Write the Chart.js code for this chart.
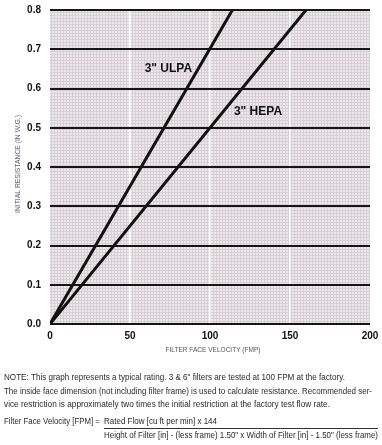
<!DOCTYPE html>
<html>
<head>
<meta charset="utf-8">
<script src="https://cdn.jsdelivr.net/npm/chart.js@4.4.0/dist/chart.umd.min.js"></script>
<style>
html,body{margin:0;padding:0;background:#fff;}
#wrap{width:382px;height:445px;}
</style>
</head>
<body>
<div id="wrap"><canvas id="c" width="382" height="445"></canvas></div>
<script>
// ---- data ----
const xTicks = [0, 50, 100, 150, 200];
const yTicks = [0.0, 0.1, 0.2, 0.3, 0.4, 0.5, 0.6, 0.7, 0.8];
const seriesNames = ['3" ULPA', '3" HEPA'];
const ulpaVelocity = [0, 114];
const ulpaResistance = [0, 0.8];
const hepaVelocity = [0, 160];
const hepaResistance = [0, 0.8];
const labelVelocity = [74, 130];
const labelResistance = [0.65, 0.54];
const xTitle = 'FILTER FACE VELOCITY (FMP)';
const yTitle = 'INITIAL RESISTANCE (IN W.G.)';
const noteLines = [
  'NOTE: This graph represents a typical rating. 3 & 6" filters are tested at 100 FPM at the factory.',
  'The inside face dimension (not including filter frame) is used to calculate resistance. Recommended ser-',
  'vice restriction is approximately two times the initial restriction at the factory test flow rate.'
];
const formulaLeft = 'Filter Face Velocity [FPM] = ';
const formulaTop = 'Rated Flow [cu ft per min] x 144';
const formulaBottom = 'Height of Filter [in] - (less frame) 1.50" x Width of Filter [in] - 1.50" (less frame)';

const toPoints = (xs, ys) => xs.map((x, i) => ({x: x, y: ys[i]}));

// background pattern
function makePattern(ctx) {
  const p = document.createElement('canvas');
  p.width = 3; p.height = 3;
  const g = p.getContext('2d');
  g.fillStyle = 'rgb(238,232,235)';
  g.fillRect(0, 0, 3, 3);
  g.fillStyle = 'rgb(214,208,212)';
  g.fillRect(0, 0, 3, 1);
  g.fillRect(0, 0, 1, 3);
  return ctx.createPattern(p, 'repeat');
}

const bgPlugin = {
  id: 'bg',
  beforeDraw(chart) {
    const {ctx, chartArea: a} = chart;
    ctx.save();
    ctx.fillStyle = makePattern(ctx);
    ctx.fillRect(a.left, a.top, a.right - a.left, a.bottom - a.top);
    ctx.restore();
  }
};

const textPlugin = {
  id: 'texts',
  afterDatasetsDraw(chart) {
    const {ctx, scales} = chart;
    ctx.save();
    ctx.fillStyle = '#111';
    ctx.font = 'bold 12px "Liberation Sans", Arial, sans-serif';
    ctx.textAlign = 'center';
    ctx.textBaseline = 'middle';
    seriesNames.forEach((n, i) => {
      ctx.fillText(n, scales.x.getPixelForValue(labelVelocity[i]), scales.y.getPixelForValue(labelResistance[i]));
    });
    ctx.restore();
  },
  afterDraw(chart) {
    const {ctx} = chart;
    ctx.save();
    // axis titles
    ctx.fillStyle = '#555';
    ctx.font = '8px "Liberation Sans", Arial, sans-serif';
    ctx.textAlign = 'center';
    ctx.textBaseline = 'middle';
    ctx.fillText(xTitle, 213, 350, 95);
    ctx.save();
    ctx.translate(18, 164);
    ctx.rotate(-Math.PI / 2);
    ctx.fillStyle = '#5a5f75';
    ctx.fillText(yTitle, 0, 0, 98);
    ctx.restore();
    // notes
    ctx.fillStyle = '#2a2a2a';
    ctx.textAlign = 'left';
    ctx.font = '9px "Liberation Sans", Arial, sans-serif';
    const widths = [341, 368, 326];
    const ys = [378, 392, 405];
    noteLines.forEach((t, i) => ctx.fillText(t, 4, ys[i], widths[i]));
    ctx.fillText(formulaLeft, 4, 422, 98);
    ctx.fillText(formulaTop, 104, 422, 113);
    ctx.fillText(formulaBottom, 104, 436, 274);
    ctx.strokeStyle = '#333';
    ctx.lineWidth = 1;
    ctx.beginPath();
    ctx.moveTo(104, 428.5);
    ctx.lineTo(378, 428.5);
    ctx.stroke();
    ctx.restore();
  }
};

const tickFont = {family: '"Liberation Sans", Arial, sans-serif', size: 10, weight: 'bold'};

new Chart(document.getElementById('c'), {
  type: 'scatter',
  data: {
    datasets: [
      {label: seriesNames[0], data: toPoints(ulpaVelocity, ulpaResistance), showLine: true,
       borderColor: '#111', borderWidth: 3, pointRadius: 0, borderCapStyle: 'round'},
      {label: seriesNames[1], data: toPoints(hepaVelocity, hepaResistance), showLine: true,
       borderColor: '#111', borderWidth: 3, pointRadius: 0, borderCapStyle: 'round'}
    ]
  },
  options: {
    responsive: false,
    animation: false,
    layout: {padding: {top: 10, right: 12, left: 0, bottom: 0}},
    plugins: {legend: {display: false}, tooltip: {enabled: false}},
    scales: {
      x: {
        type: 'linear', min: xTicks[0], max: xTicks[xTicks.length - 1],
        afterBuildTicks: s => { s.ticks = xTicks.map(v => ({value: v})); },
        afterFit: s => { s.height = 121; s.paddingLeft = 0; s.paddingRight = 0; },
        border: {display: false},
        grid: {drawTicks: false, lineWidth: 1.5,
               color: c => (c.tick && c.tick.value > xTicks[0] && c.tick.value < xTicks[xTicks.length - 1]) ? '#ffffff' : 'rgba(0,0,0,0)'},
        ticks: {font: tickFont, color: '#111', padding: 6, maxRotation: 0}
      },
      y: {
        type: 'linear', min: yTicks[0], max: yTicks[yTicks.length - 1],
        afterBuildTicks: s => { s.ticks = yTicks.map(v => ({value: v})); },
        afterFit: s => { s.width = 50; s.paddingTop = 0; s.paddingBottom = 0; },
        border: {display: false},
        grid: {drawTicks: false, lineWidth: 2, color: '#151515'},
        ticks: {font: tickFont, color: '#111', padding: 9, callback: v => Number(v).toFixed(1)}
      }
    }
  },
  plugins: [bgPlugin, textPlugin]
});
</script>
</body>
</html>
